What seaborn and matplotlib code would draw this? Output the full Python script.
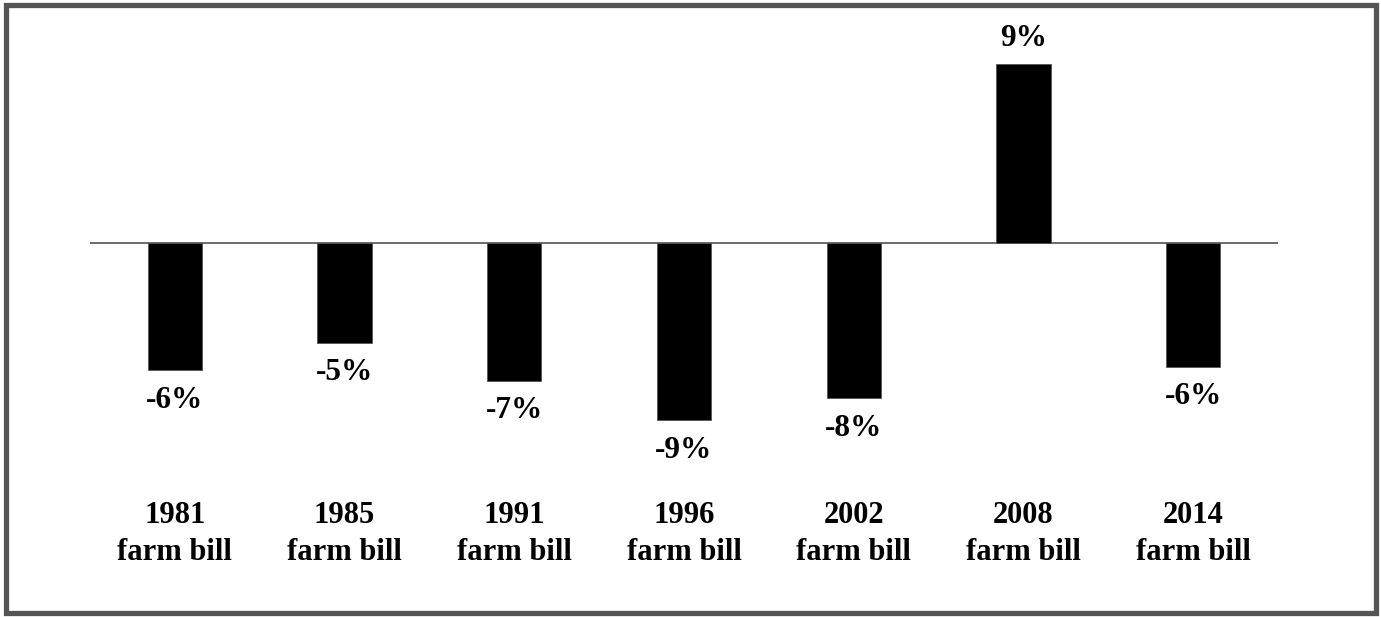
import matplotlib
matplotlib.use("Agg")
import matplotlib.pyplot as plt
import seaborn as sns
import pandas as pd
from matplotlib.patches import Rectangle

# Data (percent change by farm bill)
bills = ["1981\nfarm bill", "1985\nfarm bill", "1991\nfarm bill", "1996\nfarm bill",
         "2002\nfarm bill", "2008\nfarm bill", "2014\nfarm bill"]
changes = [-6.35, -5.0, -6.9, -8.85, -7.75, 8.95, -6.2]
value_labels = ["-6%", "-5%", "-7%", "-9%", "-8%", "9%", "-6%"]

sns.set_theme(style="white")
plt.rcParams['font.family'] = ['Liberation Serif', 'DejaVu Serif']

W, H = 1381, 617
fig = plt.figure(figsize=(W / 100, H / 100), dpi=100)
fig.patch.set_facecolor("white")

# axes placed in pixel terms: x 90..1278, y 20..480 (from top)
ax = fig.add_axes([90 / W, (H - 480) / H, 1188 / W, 460 / H])
ax.set_facecolor("none")

df = pd.DataFrame({"bill": bills, "change": changes})
sns.barplot(data=df, x="bill", y="change", color="black", width=0.32,
            saturation=1, edgecolor="#555555", linewidth=0.6, ax=ax, zorder=3)

ax.axhline(0, color="#444444", linewidth=1.1, zorder=2)
ax.set_xlim(-0.5, 6.5)
ax.set_ylim(-11.85, 11.15)

for i, (v, lab) in enumerate(zip(changes, value_labels)):
    off = 18.5 if v > 0 else -21.6
    ax.annotate(lab, xy=(i, v), xytext=(0, off), textcoords="offset points",
                ha="center", va="center", fontsize=22.5, fontweight="bold",
                color="black")

ax.set_xlabel("")
ax.set_ylabel("")
ax.set_yticks([])
ax.tick_params(axis="x", length=0, pad=15)
for t in ax.get_xticklabels():
    t.set_fontsize(22)
    t.set_fontweight("bold")
    t.set_color("black")
    t.set_linespacing(1.35)
sns.despine(ax=ax, left=True, bottom=True)

# grey frame around the picture
fig.add_artist(Rectangle((5.5 / W, 4 / H), 1370.5 / W, 608.5 / H,
                         transform=fig.transFigure, fill=False,
                         edgecolor="#555555", linewidth=3.8))

fig.savefig("out.png", dpi=100)
